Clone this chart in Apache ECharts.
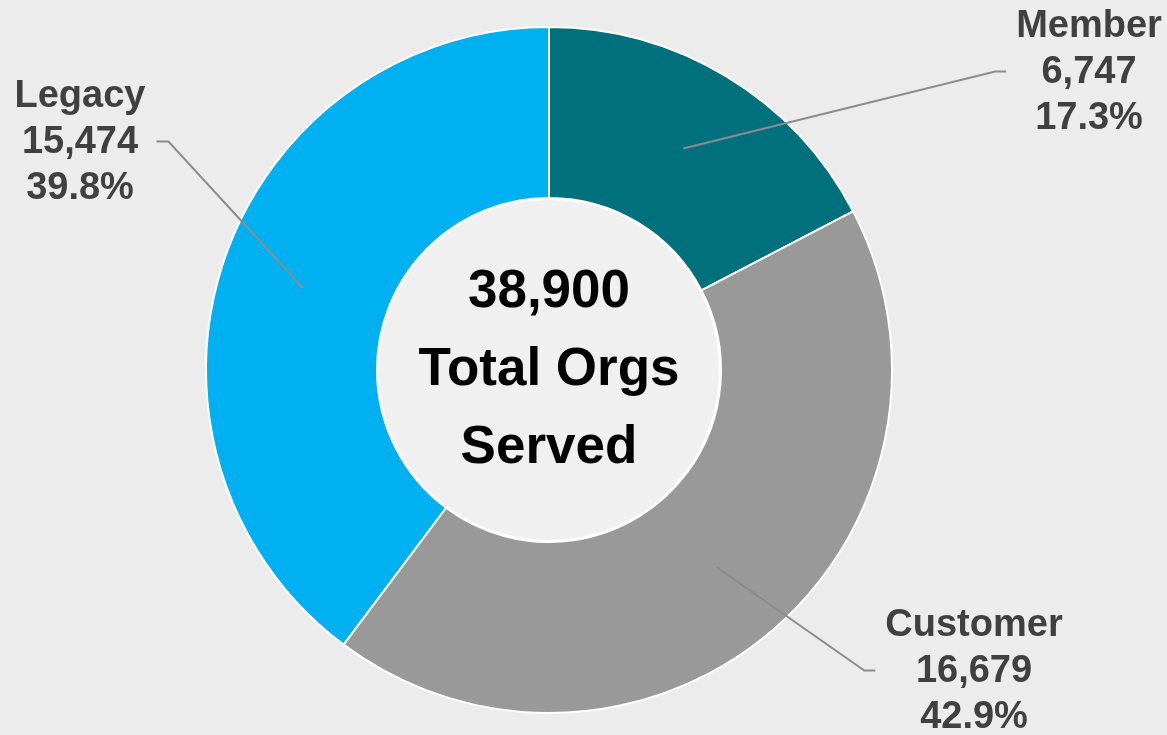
<!DOCTYPE html>
<html>
<head>
<meta charset="utf-8">
<title>Total Orgs Served</title>
<script src="https://cdn.jsdelivr.net/npm/echarts@6/dist/echarts.min.js"></script>
<style>
    html, body { margin: 0; padding: 0; }
    #chart { width: 1167px; height: 735px; }
</style>
</head>
<body>
<div id="chart"></div>
<script>
// data
const categories = ['Member', 'Customer', 'Legacy'];
const values = [6747, 16679, 15474];
const centerCaption = ['Total Orgs', 'Served'];

const sliceColors = ['#00717c', '#999999', '#00b0f0'];
const fontFamily = '"Liberation Sans", Arial, sans-serif';

// where each 3-line label sits (its centre), same order as categories
const labelAnchors = [[1089, 73], [974, 672], [80, 143]];

const pieCenter = [549, 370];
const leaderStartR = 259; // leader lines begin inside the ring
const total = values.reduce((a, b) => a + b, 0);
const fmt = (n) => n.toLocaleString('en-US');

// mid angle of every slice (clockwise from 12 o'clock), for the leader lines
const midAngles = [];
let acc = 0;
values.forEach((v) => {
    midAngles.push((acc + v / 2) / total * Math.PI * 2);
    acc += v;
});

const ringData = categories.map((name, i) => ({
    name: name,
    value: values[i],
    itemStyle: { color: sliceColors[i] }
}));
const labelData = categories.map((name, i) => ({ name: name, value: values[i] }));

const chart = echarts.init(document.getElementById('chart'));

const option = {
    backgroundColor: '#ececec',
    animation: false,
    series: [
        {
            // the donut
            type: 'pie',
            z: 2,
            center: pieCenter,
            radius: [172, 343],
            startAngle: 90,
            clockwise: true,
            silent: true,
            itemStyle: { borderColor: '#ffffff', borderWidth: 2 },
            label: { show: false },
            labelLine: { show: false },
            data: ringData
        },
        {
            // inner disc with the total
            type: 'pie',
            z: 2,
            center: pieCenter,
            radius: [0, 171],
            silent: true,
            itemStyle: { color: '#f0f0f0', borderColor: '#ffffff', borderWidth: 2 },
            label: {
                show: true,
                position: 'center',
                formatter: () => [fmt(total)].concat(centerCaption).join('\n'),
                color: '#000000',
                fontFamily: fontFamily,
                fontWeight: 'bold',
                fontSize: 53,
                lineHeight: 78
            },
            labelLine: { show: false },
            data: [{ name: 'total', value: total }]
        },
        {
            // invisible copy, only for the labels and their leader lines
            type: 'pie',
            z: 10,
            center: pieCenter,
            radius: [0, leaderStartR],
            startAngle: 90,
            clockwise: true,
            silent: true,
            percentPrecision: 1,
            avoidLabelOverlap: false,
            itemStyle: { color: 'rgba(0,0,0,0)', borderWidth: 0 },
            label: {
                show: true,
                position: 'outside',
                formatter: (p) => p.name + '\n' + fmt(p.value) + '\n' + p.percent.toFixed(1) + '%',
                color: '#404040',
                fontFamily: fontFamily,
                fontWeight: 'bold',
                fontSize: 38,
                lineHeight: 46,
                align: 'center'
            },
            labelLine: {
                show: true,
                length: 20,
                length2: 10,
                lineStyle: { color: '#8c8c8c', width: 2 }
            },
            labelLayout: function (params) {
                const i = params.dataIndex;
                const x = labelAnchors[i][0];
                const y = labelAnchors[i][1];
                const w = params.labelRect.width;
                const onLeft = x < pieCenter[0];
                const endX = onLeft ? x + w / 2 + 11 : x - w / 2 - 10;
                const elbowX = onLeft ? endX + 12 : endX - 11;
                const lineY = y - 1.5;
                const a = midAngles[i];
                const start = [
                    pieCenter[0] + leaderStartR * Math.sin(a),
                    pieCenter[1] - leaderStartR * Math.cos(a)
                ];
                return {
                    x: x,
                    y: y,
                    align: 'center',
                    verticalAlign: 'middle',
                    labelLinePoints: [start, [elbowX, lineY], [endX, lineY]]
                };
            },
            data: labelData
        }
    ]
};

chart.setOption(option);
</script>
</body>
</html>
